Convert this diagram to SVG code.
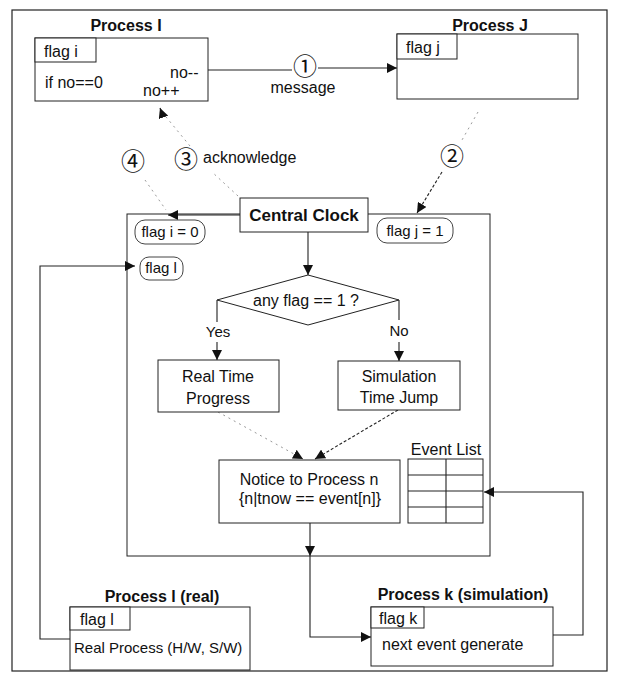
<svg xmlns="http://www.w3.org/2000/svg" width="617" height="678" viewBox="0 0 617 678">
<defs>
<marker id="ah" viewBox="0 0 10 10" refX="10" refY="5" markerWidth="10" markerHeight="10" markerUnits="userSpaceOnUse" orient="auto">
<path d="M0,0 L10,5 L0,10 z" fill="#111"/>
</marker>
<style>
text{font-family:"Liberation Sans",Arial,sans-serif;fill:#111}
.t{font-size:16px}
.s{font-size:15px}
.b{font-size:16px;font-weight:bold}
.c{font-family:"Noto Sans CJK JP","DejaVu Sans",sans-serif;font-size:24px}
.m{text-anchor:middle}
.box{fill:#fff;stroke:#222;stroke-width:1}
.ln{fill:none;stroke:#222;stroke-width:1.1}
.fa{fill:none;stroke:#999;stroke-width:1;stroke-dasharray:2 4}
.pill{fill:#fff;stroke:#444;stroke-width:1}
</style>
</defs>
<rect x="12" y="10" width="595" height="661" fill="none" stroke="#222" stroke-width="1.2"/>
<g id="container">
<rect x="127" y="214" width="363" height="342" fill="none" stroke="#222" stroke-width="1"/>
</g>
<g id="connectors">
<path class="ln" d="M208,70 H292"/>
<path class="ln" d="M318,68 H397" marker-end="url(#ah)"/>
<path class="fa" d="M238,196 L212,172"/>
<path class="fa" d="M190,146 L162,112"/>
<path class="ln" d="M163,116 L160,108" marker-end="url(#ah)"/>
<path class="fa" d="M145,180 L166,210"/>
<path class="ln" d="M240,215 H168" marker-end="url(#ah)"/>
<path class="fa" d="M478,112 L462,140"/>
<path class="ln" d="M442,172 L417,213" stroke-dasharray="3 2" marker-end="url(#ah)"/>
<path class="ln" d="M308,232 V275" marker-end="url(#ah)"/>
<path class="ln" d="M217,300 V322 M217,342 V360" marker-end="url(#ah)"/>
<path class="ln" d="M399,300 V320 M399,342 V361" marker-end="url(#ah)"/>
<path class="fa" d="M218,412 L303,459" marker-end="url(#ah)"/>
<path class="ln" d="M398,410 L315,459" stroke-dasharray="3 2" marker-end="url(#ah)"/>
<path class="ln" d="M310,523 V556" marker-end="url(#ah)"/>
<path class="ln" d="M310,556 V637 H371" marker-end="url(#ah)"/>
<path class="ln" d="M70,639 H40 V266 H135" marker-end="url(#ah)"/>
<path class="ln" d="M553,635 H583 V492 H484" marker-end="url(#ah)"/>
</g>
<g id="processI">
<text class="b m" x="126" y="31">Process I</text>
<rect class="box" x="35" y="38" width="173" height="63"/>
<rect class="box" x="35" y="38" width="61" height="24"/>
<text class="t" x="44" y="57">flag i</text>
<text class="t" x="45" y="88">if no==0</text>
<text class="t" x="170" y="78">no--</text>
<text class="t" x="143" y="96">no++</text>
</g>
<g id="msg1">
<text class="c m" x="305" y="75">①</text>
<text class="t m" x="303" y="93">message</text>
</g>
<g id="processJ">
<text class="b m" x="490" y="31">Process J</text>
<rect class="box" x="397" y="34" width="181" height="65"/>
<rect class="box" x="397" y="34" width="60" height="25"/>
<text class="t" x="406" y="53">flag j</text>
</g>
<g id="labels">
<text class="c m" x="133" y="170">④</text>
<text class="c m" x="186" y="168">③</text>
<text class="t" x="203" y="163">acknowledge</text>
<text class="c m" x="452" y="165">②</text>
</g>
<g id="centralClock">
<rect class="box" x="240" y="198" width="128" height="34"/>
<text class="b m" x="304" y="221" style="font-size:17px">Central Clock</text>
</g>
<g id="flags">
<rect class="pill" x="135" y="220" width="70" height="24" rx="10"/>
<text class="s m" x="170" y="237">flag i = 0</text>
<rect class="pill" x="140" y="257" width="43" height="23" rx="9"/>
<text class="s m" x="161" y="273">flag l</text>
<rect class="pill" x="377" y="218" width="76" height="25" rx="10"/>
<text class="s m" x="415" y="236">flag j = 1</text>
</g>
<g id="decision">
<polygon class="box" points="217,300 308,275 399,300 308,325"/>
<text class="t m" x="306" y="306">any flag == 1 ?</text>
<text class="s m" x="218" y="337">Yes</text>
<text class="s m" x="399" y="336">No</text>
</g>
<g id="realTime">
<rect class="box" x="158" y="360" width="121" height="52"/>
<text class="t m" x="218" y="382">Real Time</text>
<text class="t m" x="218" y="404">Progress</text>
</g>
<g id="simJump">
<rect class="box" x="338" y="361" width="122" height="49"/>
<text class="t m" x="399" y="382">Simulation</text>
<text class="t m" x="399" y="403">Time Jump</text>
</g>
<g id="notice">
<rect class="box" x="219" y="460" width="181" height="63"/>
<text class="t m" x="309" y="485">Notice to Process n</text>
<text class="t m" x="310" y="504">{n|tnow == event[n]}</text>
</g>
<g id="eventList">
<text class="t m" x="446" y="455">Event List</text>
<rect class="box" x="408" y="459" width="75" height="64"/>
<path class="ln" d="M408,475 H483 M408,491 H483 M408,507 H483 M446,459 V523"/>
</g>
<g id="processL">
<text class="b m" x="162" y="602">Process l (real)</text>
<rect class="box" x="70" y="607" width="180" height="63"/>
<rect class="box" x="70" y="607" width="60" height="23"/>
<text class="t" x="80" y="625">flag l</text>
<text class="s" x="74" y="653">Real Process (H/W, S/W)</text>
</g>
<g id="processK">
<text class="b m" x="463" y="600">Process k (simulation)</text>
<rect class="box" x="371" y="607" width="182" height="59"/>
<rect class="box" x="371" y="607" width="53" height="21"/>
<text class="t" x="379" y="624">flag k</text>
<text class="t" x="382" y="650">next event generate</text>
</g>
</svg>
